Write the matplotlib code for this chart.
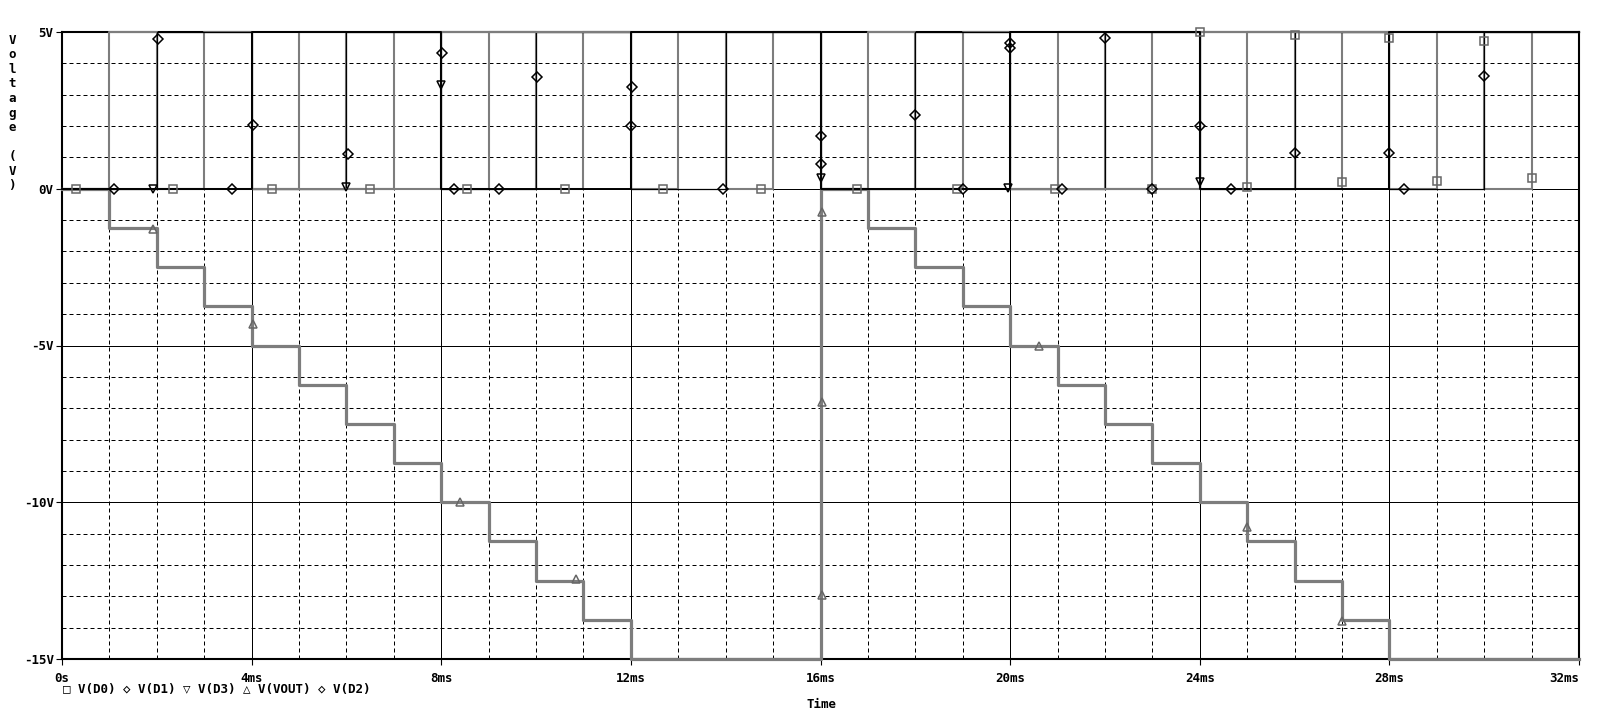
import matplotlib
matplotlib.use('Agg')
import matplotlib.pyplot as plt
import numpy as np

# time grid in ms, one level per 1 ms slot (32 slots)
t_ms = np.arange(0, 33)

d0 = [0, 5, 0, 5, 0, 5, 0, 5, 0, 5, 0, 5, 0, 5, 0, 5,
      0, 5, 0, 5, 0, 5, 0, 5, 0, 5, 0, 5, 0, 5, 0, 5]
d1 = [0, 0, 5, 5, 0, 0, 5, 5, 0, 0, 5, 5, 0, 0, 5, 5,
      0, 0, 5, 5, 0, 0, 5, 5, 0, 0, 5, 5, 0, 0, 5, 5]
d2 = [0, 0, 0, 0, 5, 5, 5, 5, 0, 0, 0, 0, 5, 5, 5, 5,
      0, 0, 0, 0, 5, 5, 5, 5, 0, 0, 0, 0, 5, 5, 5, 5]
d3 = [0, 0, 0, 0, 0, 0, 0, 0, 5, 5, 5, 5, 5, 5, 5, 5,
      0, 0, 0, 0, 0, 0, 0, 0, 5, 5, 5, 5, 5, 5, 5, 5]
vout = [0, -1.25, -2.5, -3.75, -5, -6.25, -7.5, -8.75, -10, -11.25, -12.5, -13.75, -15, -15, -15, -15,
        0, -1.25, -2.5, -3.75, -5, -6.25, -7.5, -8.75, -10, -11.25, -12.5, -13.75, -15, -15, -15, -15]

# trace identification markers (time ms, volts)
d0_mk_t = [0.3, 2.34, 4.42, 6.5, 8.54, 10.6, 12.68, 14.75, 16.78, 18.88, 20.95, 23.0,
           24.0, 25.0, 26.0, 27.0, 28.0, 29.0, 30.0, 31.0]
d0_mk_v = [0, 0, 0, 0, 0, 0, 0, 0, 0, 0, 0, 0,
           5.0, 0.05, 4.9, 0.2, 4.8, 0.26, 4.7, 0.33]
d1_mk_t = [1.1, 2.02, 3.59, 6.03, 8.27, 10.02, 12.02, 13.95, 16.0, 18.0, 20.0, 22.0,
           24.66, 26.0, 28.3, 30.0]
d1_mk_v = [0, 4.78, 0, 1.1, 0, 3.55, 3.24, 0, 1.67, 2.36, 4.66, 4.8,
           0, 1.15, 0, 3.6]
d2_mk_t = [4.02, 8.02, 9.22, 12.0, 16.0, 19.0, 20.0, 21.1, 23.0, 24.0, 28.0]
d2_mk_v = [2.04, 4.34, 0, 2.0, 0.8, 0, 4.5, 0, 0, 2.0, 1.15]
d3_mk_t = [1.93, 6.0, 8.0, 16.0, 19.95, 24.0]
d3_mk_v = [0, 0.06, 3.3, 0.35, 0.03, 0.2]
vout_mk_t = [1.92, 4.02, 8.39, 10.85, 16.03, 16.03, 16.03, 20.6, 25.0, 27.0]
vout_mk_v = [-1.28, -4.3, -10.0, -12.46, -0.73, -6.8, -12.95, -5.0, -10.8, -13.8]

x_ticks = [0, 4, 8, 12, 16, 20, 24, 28, 32]
x_labels = ['0s', '4ms', '8ms', '12ms', '16ms', '20ms', '24ms', '28ms', '32ms']
y_ticks = [5, 0, -5, -10, -15]
y_labels = ['5V', '0V', '-5V', '-10V', '-15V']

W, H = 1623, 711
mono = ['DejaVu Sans Mono', 'DejaVu Sans']
fs = 9

fig = plt.figure(figsize=(W / 100, H / 100), dpi=100)
ax = fig.add_axes([62 / W, 1 - 659 / H, (1579 - 62) / W, (659 - 32) / H])
ax.set_xlim(0, 32)
ax.set_ylim(-15, 5)

# grid: dashed every 1 ms / 1 V, solid at major ticks
for xv in range(1, 32):
    if xv % 4 == 0:
        ax.axvline(xv, color='black', lw=0.72, zorder=1)
    else:
        ax.axvline(xv, color='black', lw=0.72, ls=(0, (4, 3)), zorder=1)
for yv in range(-14, 5):
    if yv % 5 == 0:
        ax.axhline(yv, color='black', lw=0.72, zorder=1)
    else:
        ax.axhline(yv, color='black', lw=0.72, ls=(0, (4, 3)), zorder=1)

gray = '#7d7d7d'


def trace(vals, color, lw):
    ax.plot(t_ms, list(vals) + [vals[-1]], drawstyle='steps-post',
            color=color, lw=lw, zorder=3, clip_on=False)


trace(d0, gray, 1.5)
trace(d1, 'black', 0.9)
trace(d3, gray, 1.5)
trace(vout, gray, 2.3)
trace(d2, 'black', 1.4)

mk = dict(ls='none', mfc='none', ms=5.5, mew=1.1, zorder=4, clip_on=False)
ax.plot(d0_mk_t, d0_mk_v, marker='s', mec='#666666', **mk)
ax.plot(d1_mk_t, d1_mk_v, marker='D', mec='black', **dict(mk, ms=4.8))
ax.plot(d3_mk_t, d3_mk_v, marker='v', mec='black', **mk)
ax.plot(vout_mk_t, vout_mk_v, marker='^', mec='#666666', **mk)
ax.plot(d2_mk_t, d2_mk_v, marker='D', mec='black', **dict(mk, ms=4.8))

for s in ax.spines.values():
    s.set_linewidth(1.5)
    s.set_zorder(2.5)

ax.set_xticks(x_ticks)
ax.set_xticklabels(x_labels, family=mono, fontsize=fs, fontweight='bold')
ax.set_yticks(y_ticks)
ax.set_yticklabels(y_labels, family=mono, fontsize=fs, fontweight='bold')
ax.xaxis.get_ticklabels()[-1].set_ha('right')
ax.tick_params(axis='both', direction='out', length=4, width=0.8, pad=2)
ax.tick_params(axis='x', pad=5)

# stacked y label
ylab = 'Voltage (V)'
for i, ch in enumerate(ylab):
    fig.text(12 / W, 1 - (40 + 14.6 * i) / H, ch, family=mono, fontsize=fs,
             fontweight='bold', ha='center', va='center')

fig.text(63 / W, 1 - 689 / H,
         '\u25a1 V(D0) \u25c7 V(D1) \u25bd V(D3) \u25b3 V(VOUT) \u25c7 V(D2)',
         family=mono, fontsize=fs, fontweight='bold', ha='left', va='center')
fig.text(821 / W, 1 - 704 / H, 'Time', family=mono, fontsize=fs,
         fontweight='bold', ha='center', va='center')

fig.savefig('out.png', dpi=100)
